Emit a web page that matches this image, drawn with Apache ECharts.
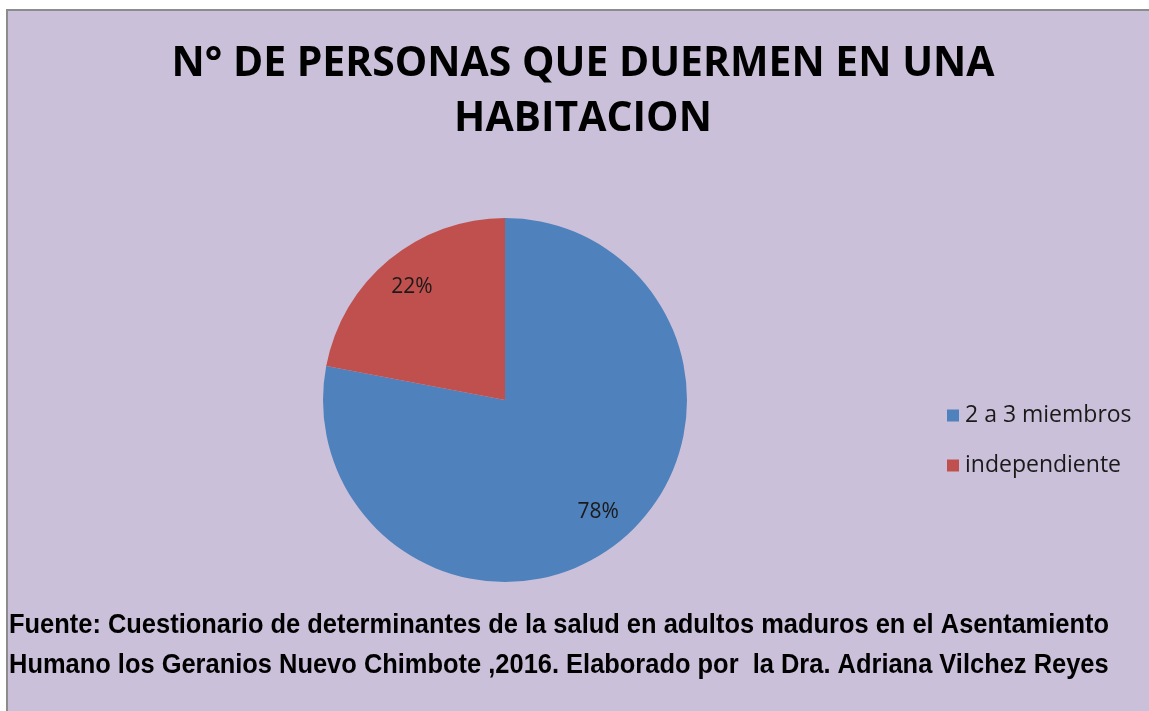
<!DOCTYPE html>
<html><head><meta charset="utf-8">
<script src="https://cdn.jsdelivr.net/npm/echarts@6/dist/echarts.min.js"></script>
<style>html,body{margin:0;padding:0;background:#fff}#c{width:1149px;height:711px}</style>
</head><body><div id="c"></div>
<script>
const titleLines = ['N° DE PERSONAS QUE DUERMEN EN UNA', 'HABITACION'];
const categories = ['2 a 3 miembros', 'independiente'];
const values = [78, 22];
const colors = ['#4F81BD', '#C0504D'];
const footLines = [
  'Fuente: Cuestionario de determinantes de la salud en adultos maduros en el Asentamiento',
  'Humano los Geranios Nuevo Chimbote ,2016. Elaborado por  la Dra. Adriana Vilchez Reyes'
];

const cv = document.createElement('canvas').getContext('2d');
function w(text, font){ cv.font = font; return cv.measureText(text).width; }

const titleFont = 'bold 42px "Open Sans"';
const footFont = 'bold 27px "Liberation Sans"';
const tScale = 823 / w(titleLines[0], titleFont);
const fScale = 1100 / w(footLines[0], footFont);

const chart = echarts.init(document.getElementById('c'), null, {renderer:'canvas'});
const data = categories.map((n,i)=>({name:n, value:values[i], itemStyle:{color:colors[i]}}));
chart.setOption({
  backgroundColor:'#fff',
  animation:false,
  graphic:[
    {type:'rect', z:-10, shape:{x:7,y:10,width:1150,height:710}, style:{fill:'#CBC0D9', stroke:'#8C8C8C', lineWidth:2}},
    {type:'text', x:583, y:64, scaleX:tScale, style:{text:titleLines[0], font:titleFont, fill:'#000', align:'center', verticalAlign:'middle'}},
    {type:'text', x:583, y:119, scaleX:tScale, style:{text:titleLines[1], font:titleFont, fill:'#000', align:'center', verticalAlign:'middle'}},
    {type:'text', x:9, y:626, scaleX:fScale, style:{text:footLines[0], font:footFont, fill:'#000', align:'left', verticalAlign:'middle'}},
    {type:'text', x:9, y:666, scaleX:fScale, style:{text:footLines[1], font:footFont, fill:'#000', align:'left', verticalAlign:'middle'}}
  ],
  legend:{
    orient:'vertical', left:942, top:399, itemWidth:12, itemHeight:12, itemGap:27,
    icon:'rect',
    data:categories.map((n,i)=>({name:n, itemStyle:{color:colors[i]}})),
    textStyle:{fontFamily:'Open Sans', fontSize:23, color:'#1a1a1a', padding:[0,0,0,1]}
  },
  series:[
    {type:'pie', center:[505,400], radius:[0,182], startAngle:90, clockwise:true,
     label:{show:false}, labelLine:{show:false}, silent:true, data:data},
    {type:'pie', center:[505,400], radius:[104,182], startAngle:90, clockwise:true,
     itemStyle:{color:'rgba(0,0,0,0)'}, silent:true,
     label:{show:true, position:'inside', formatter:'{d}%', fontFamily:'Open Sans', fontSize:21, color:'#1a1a1a'},
     labelLine:{show:false},
     data:categories.map((n,i)=>({name:n, value:values[i], itemStyle:{color:'rgba(0,0,0,0)'}}))}
  ]
});
</script></body></html>
